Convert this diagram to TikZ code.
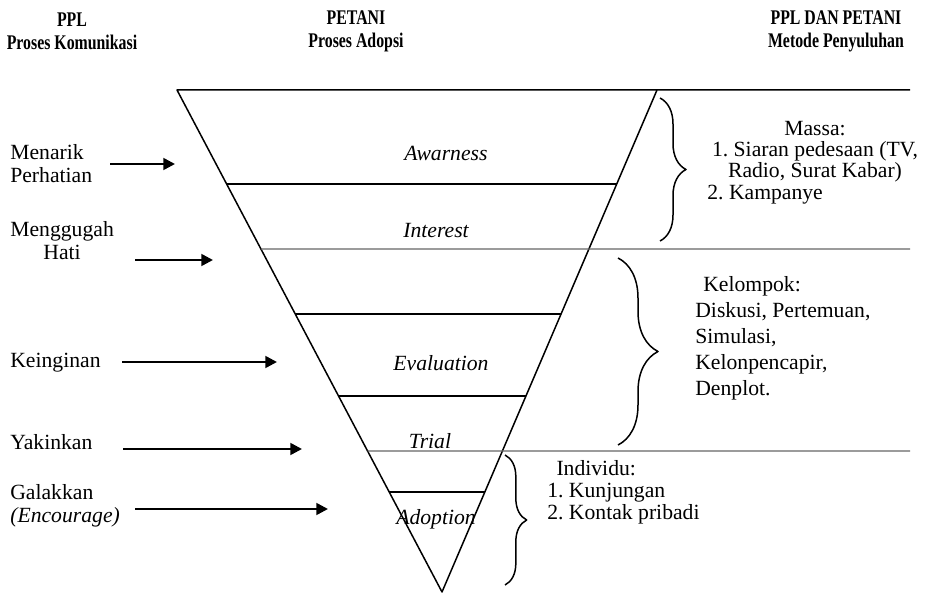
\documentclass[tikz,border=0pt]{standalone}
\usepackage{fontspec}
\setmainfont{Liberation Serif}
\newfontfamily\headfont[FakeStretch=0.76]{Liberation Serif}
\frenchspacing
\usetikzlibrary{arrows.meta,calc,decorations.pathreplacing,positioning}
\begin{document}
\begin{tikzpicture}[x=0.6pt, y=-0.6pt, font=\fontsize{13}{13.8}\selectfont, line join=round, inner sep=0pt, >={Triangle[length=7pt,width=7pt]},
	hd/.style={font=\headfont\fontsize{12.5}{13.8}\selectfont\bfseries, align=center},
	lvl/.style={font=\fontsize{13}{13.8}\selectfont\itshape},
	pull/.style={line width=1.6pt, ->},
	brc/.style={decorate, decoration={brace, amplitude=#1}, line width=0.9pt},
	faint/.style={line width=0.7pt, black!60}]
	\useasboundingbox (0,0) rectangle (927,594);
	\path 
	(177,90) coordinate (TL)
	(657,90) coordinate (TR)
	(442,592) coordinate (V)
	(910,90) coordinate (E0)
	(910,249) coordinate (E1)
	(910,451) coordinate (E2)
	;
	% headers
	\node[hd] (ppl) at (72,31) {PPL\\Proses Komunikasi};
	\node[hd] (petani) at (356,31) {PETANI\\Proses Adopsi};
	\node[hd] (metode) at (836,31) {PPL DAN PETANI\\Metode Penyuluhan};
	% funnel
	\draw[line width=0.9pt] (E0)--(TL)--(V)--(TR);
	\foreach \y in {184,314,396,492}
		\draw[line width=0.9pt] ($(TL)!{(\y-90)/502}!(V)$)--($(TR)!{(\y-90)/502}!(V)$);
	\draw[faint] ($(TL)!{(249-90)/502}!(V)$)--(E1);
	\draw[faint] ($(TL)!{(451-90)/502}!(V)$)--(E2);
	\node[lvl] (awarness) at (446,153) {Awarness};
	\node[lvl] (interest) at (436,231) {Interest};
	\node[lvl] (evaluation) at (441,363) {Evaluation};
	\node[lvl] (trial) at (430,441) {Trial};
	\node[lvl] (adoption) at (436,519) {Adoption};
	% komunikasi
	\node[align=left, anchor=west] (menarik) at (10,164) {Menarik\\Perhatian};
	\node[align=center, anchor=west] (menggugah) at (10,241) {Menggugah\\Hati};
	\node[anchor=west] (keinginan) at (10,363) {Keinginan};
	\node[anchor=west] (yakinkan) at (10,442) {Yakinkan};
	\node[align=left, anchor=west] (galakkan) at (10,506) {Galakkan\\\textit{(Encourage)}};
	\path 
	(110,164) coordinate (s1) (175,164) coordinate (e1)
	(135,260) coordinate (s2) (213,260) coordinate (e2)
	(122,362) coordinate (s3) (277,362) coordinate (e3)
	(123,449) coordinate (s4) (302,449) coordinate (e4)
	(135,509) coordinate (s5) (328,509) coordinate (e5)
	;
	\foreach \i in {1,...,5}\draw[pull] (s\i)--(e\i);
	% metode
	\draw[brc=15.6pt] (660,98)--(660,241);
	\draw[brc=24pt] (618,258)--(618,445);
	\draw[brc=13pt] (505,455)--(505,585);
	\node[align=center, font=\fontsize{13}{12.5}\selectfont] (massa) at (815,152) {Massa:\\1. Siaran pedesaan (TV,\\Radio, Surat Kabar)};
	\node[anchor=west] (kampanye) at (707,195) {2. Kampanye};
	\node[align=left, anchor=north west, font=\fontsize{13}{15.6}\selectfont] (kelompok) at (695,276) {\hspace{4.8pt}Kelompok:\\Diskusi, Pertemuan,\\Simulasi,\\Kelonpencapir,\\Denplot.};
	\node[align=left, anchor=north west, font=\fontsize{13}{13.2}\selectfont] (individu) at (547,460) {\hspace{5.5pt}Individu:\\1. Kunjungan\\2. Kontak pribadi};
\end{tikzpicture}
\end{document}
